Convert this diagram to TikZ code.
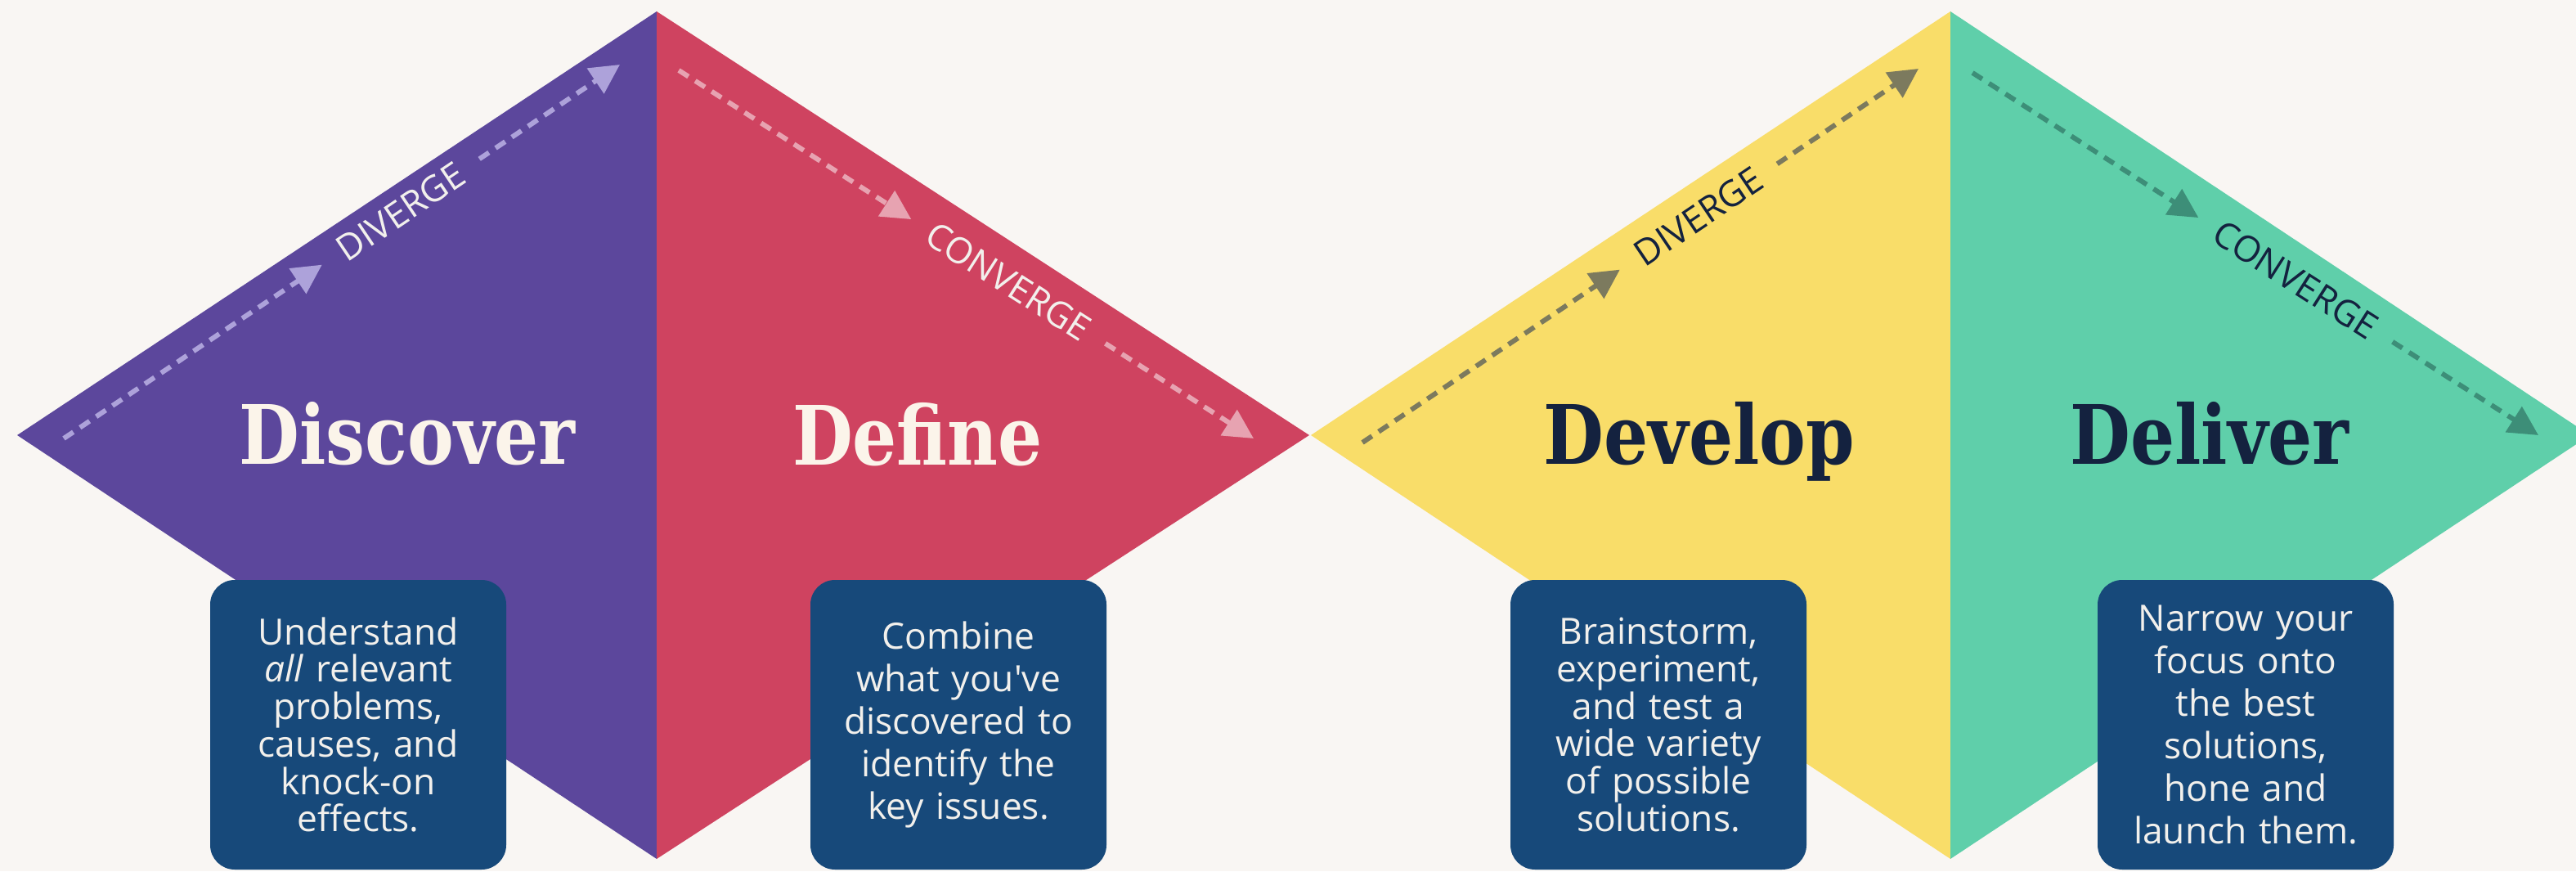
\documentclass[tikz,border=0pt]{standalone}
\usepackage{fontspec}
\setsansfont{Open Sans}
\newfontfamily\titlefont[FakeStretch=0.85]{DejaVu Serif}
\usetikzlibrary{calc}
\usetikzlibrary{arrows.meta}

\definecolor{paper}{HTML}{F9F6F3}
\definecolor{discovercol}{HTML}{5C479C}
\definecolor{definecol}{HTML}{CF4360}
\definecolor{developcol}{HTML}{F9DD69}
\definecolor{delivercol}{HTML}{5FCFAA}
\definecolor{boxblue}{HTML}{17497A}
\definecolor{boxtext}{HTML}{F2F0EC}
\definecolor{cream}{HTML}{FBF4EA}
\definecolor{navy}{HTML}{14223F}
\definecolor{lavarrow}{HTML}{ADA2DA}
\definecolor{pinkarrow}{HTML}{E7A3B1}
\definecolor{olivearrow}{HTML}{7C7A5E}
\definecolor{tealarrow}{HTML}{3D8E78}

\begin{document}
\begin{tikzpicture}[
    phase/.style={font=\titlefont\bfseries\fontsize{28.5}{30}\selectfont,
      anchor=base, inner sep=0pt},
    flowtag/.style={font=\sffamily\fontsize{12.5}{14}\selectfont,
      inner xsep=0.26cm, inner ysep=0pt},
    flowline/.style={line width=1.7pt, dash pattern=on 4pt off 2.8pt,
      -{Triangle[length=0.36cm,width=0.36cm]}},
    stepnote/.style={fill=boxblue, rounded corners=0.3cm, text=boxtext,
      font=\sffamily\fontsize{12.6}{13}\selectfont, align=center,
      text width=3.5cm, minimum width=3.62cm, minimum height=3.54cm,
      inner sep=0pt}
  ]
    \useasboundingbox (0,0) rectangle (31.5,10.65);
    \clip (0,0) rectangle (31.5,10.65);
    \fill[paper] (0,0) rectangle (31.5,10.65);

    % the two diamonds
    \fill[discovercol] (0.21,5.33) -- (8.03,10.51) -- (8.03,0.15) -- cycle;
    \fill[definecol] (8.03,10.51) -- (16.01,5.33) -- (8.03,0.15) -- cycle;
    \fill[developcol] (16.03,5.33) -- (23.85,10.51) -- (23.85,0.15) -- cycle;
    \fill[delivercol] (23.85,10.51) -- (31.67,5.33) -- (23.85,0.15) -- cycle;

    % diverge / converge
    \coordinate (divA1) at (0.78,5.29);
    \coordinate (divA2) at (7.58,9.86);
    \node[flowtag, text=boxtext, rotate=33.9] (divlabA) at (4.90,8.06) {DIVERGE};
    \draw[flowline, lavarrow] (divA1) -- (divlabA.west);
    \draw[flowline, lavarrow] (divlabA.east) -- (divA2);

    \coordinate (convA1) at (8.30,9.79);
    \coordinate (convA2) at (15.33,5.29);
    \node[flowtag, text=boxtext, rotate=-32.6] (convlabA) at (12.33,7.21) {CONVERGE};
    \draw[flowline, pinkarrow] (convA1) -- (convlabA.west);
    \draw[flowline, pinkarrow] (convlabA.east) -- (convA2);

    \coordinate (divB1) at (16.66,5.24);
    \coordinate (divB2) at (23.46,9.81);
    \node[flowtag, text=navy, rotate=33.9] (divlabB) at (20.77,8.00) {DIVERGE};
    \draw[flowline, olivearrow] (divB1) -- (divlabB.west);
    \draw[flowline, olivearrow] (divlabB.east) -- (divB2);

    \coordinate (convB1) at (24.12,9.76);
    \coordinate (convB2) at (31.04,5.33);
    \node[flowtag, text=navy, rotate=-32.6] (convlabB) at (28.07,7.23) {CONVERGE};
    \draw[flowline, tealarrow] (convB1) -- (convlabB.west);
    \draw[flowline, tealarrow] (convlabB.east) -- (convB2);

    % phase names
    \node[phase, text=cream] (discover) at (4.98,4.97) {Discover};
    \node[phase, text=cream] (define) at (11.22,4.96) {Define};
    \node[phase, text=navy] (develop) at (20.78,4.97) {Develop};
    \node[phase, text=navy] (deliver) at (27.02,4.97) {Deliver};

    % notes
    \node[stepnote] (discovernote) at (4.38,1.79)
    {Understand\\ \textit{all} relevant\\ problems,\\ causes, and\\ knock-on\\ effects.};
    \node[stepnote, font=\sffamily\fontsize{12.6}{14.8}\selectfont] (definenote) at (11.72,1.79)
    {Combine\\ what you\textquotesingle ve\\ discovered to\\ identify the\\ key issues.};
    \node[stepnote] (developnote) at (20.28,1.79)
    {Brainstorm,\\ experiment,\\ and test a\\ wide variety\\ of possible\\ solutions.};
    \node[stepnote, font=\sffamily\fontsize{12.6}{14.8}\selectfont] (delivernote) at (27.46,1.79)
    {Narrow your\\ focus onto\\ the best\\ solutions,\\ hone and\\ launch them.};

  \end{tikzpicture}
\end{document}
